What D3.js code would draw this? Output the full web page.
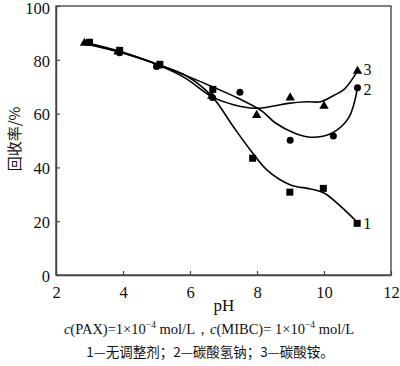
<!DOCTYPE html>
<html><head><meta charset="utf-8">
<script src="https://cdn.jsdelivr.net/npm/d3@7"></script>
<style>body{margin:0;background:#fff}svg{display:block}</style>
</head><body><svg id="c" width="400" height="366"></svg>
<script>
const xTicks = [2,4,6,8,10,12];
const yTicks = [0,20,40,60,80,100];
// measured points
const s1Points = [[3.0,86.5],[3.9,83.5],[5.1,78.3],[6.68,69],[7.87,43.4],[8.98,30.8],[9.98,32.2],[10.99,19.2]];
const s2Points = [[3.0,86.5],[3.9,82.6],[5.0,77.5],[6.67,66],[7.49,67.9],[8.99,50.1],[10.28,51.7],[11.0,69.6]];
const s3Points = [[2.85,86.2],[3.85,83],[5.05,77.8],[6.65,66.5],[7.99,59.4],[8.99,65.9],[10.0,62.8],[11.0,75.8]];
// fitted curves
const s1Curve = [[2.85,86.5],[4,82.8],[5.1,78],[5.9,74],[6.65,66.5],[7.3,55],[7.8,46.5],[8.3,39],[9,33.5],[9.6,32],[10,30.5],[10.5,25.5],[11,19.5]];
const s2Curve = [[2.85,86.5],[4,82.5],[5.1,78],[5.85,74.3],[6.7,69.8],[7.44,65.7],[8.14,61],[8.54,56.6],[9.13,52.7],[9.63,51.2],[10.23,52.7],[10.73,58.3],[11,69.6]];
const s3Curve = [[2.85,86],[4,82.5],[5.1,77.8],[5.85,73.3],[6.65,66.3],[7.3,63.3],[7.94,62],[8.5,62.8],[8.93,63.8],[9.5,64.4],[9.9,64.4],[10.3,66.8],[10.6,69],[11,75.8]];
const seriesLabels = ["1","2","3"];

const svg = d3.select("#c");
const x = d3.scaleLinear().domain([2,12]).range([56,391]);
const y = d3.scaleLinear().domain([0,100]).range([275,6]);
const serif = "'Liberation Serif','Times New Roman',serif";
const cjk = "'Noto Sans CJK SC','Noto Sans CJK JP',sans-serif";

// frame
svg.append("rect").attr("x",56).attr("y",6).attr("width",335).attr("height",269)
  .attr("fill","none").attr("stroke","#555").attr("stroke-width",1.5);

const xa = svg.append("g").attr("transform","translate(0,275)")
  .call(d3.axisBottom(x).tickValues(xTicks).tickSizeInner(-4).tickSizeOuter(0).tickPadding(8));
const ya = svg.append("g").attr("transform","translate(56,0)")
  .call(d3.axisLeft(y).tickValues(yTicks).tickSizeInner(-4).tickSizeOuter(0).tickPadding(6));
[xa,ya].forEach(a=>{
  a.select(".domain").attr("stroke","#444").attr("stroke-width",1.5);
  a.selectAll(".tick line").attr("stroke","#444").attr("stroke-width",1.2);
  a.selectAll(".tick text").attr("font-family",serif).attr("font-size",16.5).attr("fill","#111");
});
xa.selectAll(".tick text").attr("dy","0.9em");
ya.selectAll(".tick text").attr("dy",d=>d===100?"0.45em":"0.38em");

const line = d3.line().x(d=>x(d[0])).y(d=>y(d[1])).curve(d3.curveCatmullRom.alpha(0.5));
[s1Curve,s2Curve,s3Curve].forEach(c=>{
  svg.append("path").attr("d",line(c)).attr("fill","none").attr("stroke","#000").attr("stroke-width",1.6);
});

// markers
svg.append("g").selectAll("rect").data(s1Points).join("rect")
  .attr("x",d=>x(d[0])-3.5).attr("y",d=>y(d[1])-3.5).attr("width",7).attr("height",7).attr("fill","#000");
svg.append("g").selectAll("circle").data(s2Points).join("circle")
  .attr("cx",d=>x(d[0])).attr("cy",d=>y(d[1])).attr("r",3.5).attr("fill","#000");
const tri = d3.symbol().type(d3.symbolTriangle).size(38);
svg.append("g").selectAll("path").data(s3Points).join("path")
  .attr("transform",d=>`translate(${x(d[0])},${y(d[1])})`).attr("d",tri).attr("fill","#000");

// end labels
const ends = [s1Points[s1Points.length-1], s2Points[s2Points.length-1], s3Points[s3Points.length-1]];
const endDy = [6, 7, 4];
ends.forEach((e,i)=>{
  svg.append("text").attr("x",x(e[0])+6).attr("y",y(e[1])+endDy[i])
    .attr("font-family",serif).attr("font-size",16).attr("fill","#111").text(seriesLabels[i]);
});

// axis titles
svg.append("text").attr("transform","translate(20,139) rotate(-90)").attr("text-anchor","middle")
  .attr("font-family",cjk).attr("font-size",15).attr("fill","#111").text("回收率/%");
svg.append("text").attr("x",224).attr("y",311).attr("text-anchor","middle")
  .attr("font-family",serif).attr("font-size",17).attr("fill","#111").text("pH");

// caption
const cap = svg.append("text").attr("x",209).attr("y",334).attr("text-anchor","middle")
  .attr("font-family",serif).attr("font-size",14.5).attr("fill","#111");
cap.append("tspan").attr("font-style","italic").text("c");
cap.append("tspan").text("(PAX)=1×10");
cap.append("tspan").attr("font-size",9.5).attr("dy",-6).text("−4");
cap.append("tspan").attr("dy",6).text(" mol/L，");
cap.append("tspan").attr("font-style","italic").text("c");
cap.append("tspan").text("(MIBC)= 1×10");
cap.append("tspan").attr("font-size",9.5).attr("dy",-6).text("−4");
cap.append("tspan").attr("dy",6).text(" mol/L");

svg.append("text").attr("x",210).attr("y",357).attr("text-anchor","middle")
  .attr("font-family",cjk).attr("font-size",13.5).attr("fill","#111")
  .text("1—无调整剂；2—碳酸氢钠；3—碳酸铵。");
</script></body></html>
